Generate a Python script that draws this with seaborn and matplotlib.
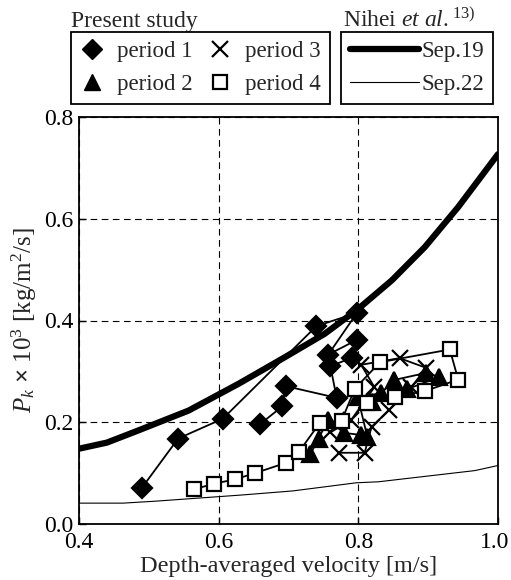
import numpy as np
import pandas as pd
import matplotlib
matplotlib.use("Agg")
import matplotlib.pyplot as plt
import matplotlib.transforms as mtransforms
from matplotlib.lines import Line2D
import seaborn as sns

####################################################
# present study, four periods (velocity [m/s], Pk x 10^3)
p1_u = [0.490, 0.542, 0.606, 0.740, 0.798, 0.757, 0.798, 0.791, 0.760, 0.769, 0.696, 0.691, 0.659]
p1_pk = [0.071, 0.168, 0.207, 0.389, 0.415, 0.333, 0.362, 0.327, 0.310, 0.248, 0.271, 0.231, 0.196]

p2_u = [0.731, 0.743, 0.756, 0.780, 0.804, 0.813, 0.799, 0.833, 0.851, 0.897, 0.916, 0.870, 0.820]
p2_pk = [0.137, 0.167, 0.204, 0.179, 0.175, 0.171, 0.250, 0.257, 0.283, 0.297, 0.289, 0.265, 0.240]

p3_u = [0.773, 0.809, 0.819, 0.844, 0.876, 0.897, 0.859, 0.804, 0.823, 0.790, 0.760]
p3_pk = [0.140, 0.140, 0.191, 0.224, 0.269, 0.307, 0.326, 0.313, 0.269, 0.205, 0.180]

p4_u = [0.564, 0.593, 0.624, 0.652, 0.696, 0.715, 0.745, 0.776, 0.795, 0.831, 0.931, 0.943, 0.895, 0.852, 0.812]
p4_pk = [0.068, 0.079, 0.088, 0.100, 0.120, 0.142, 0.199, 0.203, 0.266, 0.318, 0.343, 0.284, 0.261, 0.250, 0.238]

# Nihei et al. curves
sep19_u = [0.40, 0.44, 0.487, 0.557, 0.629, 0.695, 0.752, 0.800, 0.848, 0.895, 0.943, 1.00]
sep19_pk = [0.148, 0.160, 0.185, 0.223, 0.276, 0.328, 0.374, 0.423, 0.479, 0.544, 0.623, 0.727]

sep22_u = [0.40, 0.463, 0.511, 0.633, 0.706, 0.797, 0.829, 0.967, 1.00]
sep22_pk = [0.041, 0.041, 0.045, 0.057, 0.065, 0.081, 0.083, 0.105, 0.115]


def make_df(u, pk):
    return pd.DataFrame({'u': u, 'pk': pk})


def plot_pk():
    sns.set_style('ticks')
    plt.rcParams['font.family'] = ['Liberation Serif', 'DejaVu Serif']
    plt.rcParams['mathtext.fontset'] = 'custom'
    plt.rcParams['mathtext.rm'] = 'Liberation Serif'
    plt.rcParams['mathtext.it'] = 'Liberation Serif:italic'
    plt.rcParams['mathtext.bf'] = 'Liberation Serif:bold'

    fig = plt.figure(figsize=(5.11, 5.8), dpi=100)
    ax = fig.add_axes([79 / 511, 1 - 524 / 580, 419 / 511, 407 / 580])

    sns.lineplot(data=make_df(sep19_u, sep19_pk), x='u', y='pk', sort=False,
                 estimator=None, color='black', linewidth=4.5, ax=ax, zorder=2)
    sns.lineplot(data=make_df(sep22_u, sep22_pk), x='u', y='pk', sort=False,
                 estimator=None, color='black', linewidth=0.8, ax=ax, zorder=2)

    series = [
        (p1_u, p1_pk, 'D', 'black', 10.5),
        (p2_u, p2_pk, '^', 'black', 11),
        (p3_u, p3_pk, 'x', 'none', 11),
        (p4_u, p4_pk, 's', 'white', 10),
    ]
    for u, pk, m, fc, ms in series:
        sns.lineplot(data=make_df(u, pk), x='u', y='pk', sort=False, estimator=None,
                     color='black', linewidth=1.3, marker=m, markersize=ms,
                     markerfacecolor=fc, markeredgecolor='black', markeredgewidth=1.6,
                     ax=ax, zorder=3)

    ax.set_xlim(0.4, 1.0)
    ax.set_ylim(0.0, 0.8)
    ax.set_xticks([0.4, 0.6, 0.8, 1.0])
    ax.set_yticks([0.0, 0.2, 0.4, 0.6, 0.8])
    ax.set_xticklabels(['0.4', '0.6', '0.8', '1.0'])
    ax.set_yticklabels(['0.0', '0.2', '0.4', '0.6', '0.8'])
    ax.tick_params(direction='in', length=5, width=1, labelsize=17, colors='black')
    ax.tick_params(axis='x', pad=6)
    ax.tick_params(axis='y', pad=4)
    # keep the last x label inside the figure
    last = ax.get_xticklabels()[-1]
    last.set_transform(last.get_transform() +
                       mtransforms.ScaledTranslation(-3 / 100, 0, fig.dpi_scale_trans))
    for s in ax.spines.values():
        s.set_linewidth(1.3)
        s.set_color('black')
    ax.grid(True, color='black', linestyle=(0, (6, 4)), linewidth=0.8)
    ax.set_xlabel('Depth-averaged velocity [m/s]', fontsize=17.5, labelpad=2)
    ax.set_ylabel(r'$P_k$ $\mathbf{\times}$ $10^3$ [kg/m$^2$/s]', fontsize=18, labelpad=4)

    h1 = [Line2D([], [], linestyle='none', marker='D', markersize=10.5, color='black'),
          Line2D([], [], linestyle='none', marker='^', markersize=11, color='black'),
          Line2D([], [], linestyle='none', marker='x', markersize=11, color='black',
                 markeredgewidth=1.6),
          Line2D([], [], linestyle='none', marker='s', markersize=10, markerfacecolor='white',
                 markeredgecolor='black', markeredgewidth=1.6)]
    l1 = fig.legend(h1, ['period 1', 'period 2', 'period 3', 'period 4'], ncol=2,
                    loc='upper left', bbox_to_anchor=(71 / 511, 1 - 32 / 580),
                    fontsize=16.5, frameon=True, fancybox=False, edgecolor='black',
                    framealpha=1, handlelength=1.0, handletextpad=0.6, columnspacing=0.7,
                    borderpad=0.4, labelspacing=0.5, borderaxespad=0)
    l1.get_frame().set_linewidth(1.3)

    h2 = [Line2D([], [], color='black', linewidth=4.5, solid_capstyle='round'),
          Line2D([], [], color='black', linewidth=0.8)]
    l2 = fig.legend(h2, ['Sep.19', 'Sep.22'], loc='upper right',
                    bbox_to_anchor=(493 / 511, 1 - 32 / 580), fontsize=16.5, frameon=True,
                    fancybox=False, edgecolor='black', framealpha=1, handlelength=3.0,
                    handletextpad=0.1, borderpad=0.4, labelspacing=0.5, borderaxespad=0)
    l2.get_frame().set_linewidth(1.3)

    fig.text(71 / 511, 1 - 27 / 580, 'Present study', fontsize=17, ha='left', va='baseline')
    fig.text(343 / 511, 1 - 27 / 580, r'Nihei $\it{et\ al.}^{13)}$', fontsize=17,
             ha='left', va='baseline')

    fig.savefig('out.png', dpi=100)


if __name__ == '__main__':
    plot_pk()
